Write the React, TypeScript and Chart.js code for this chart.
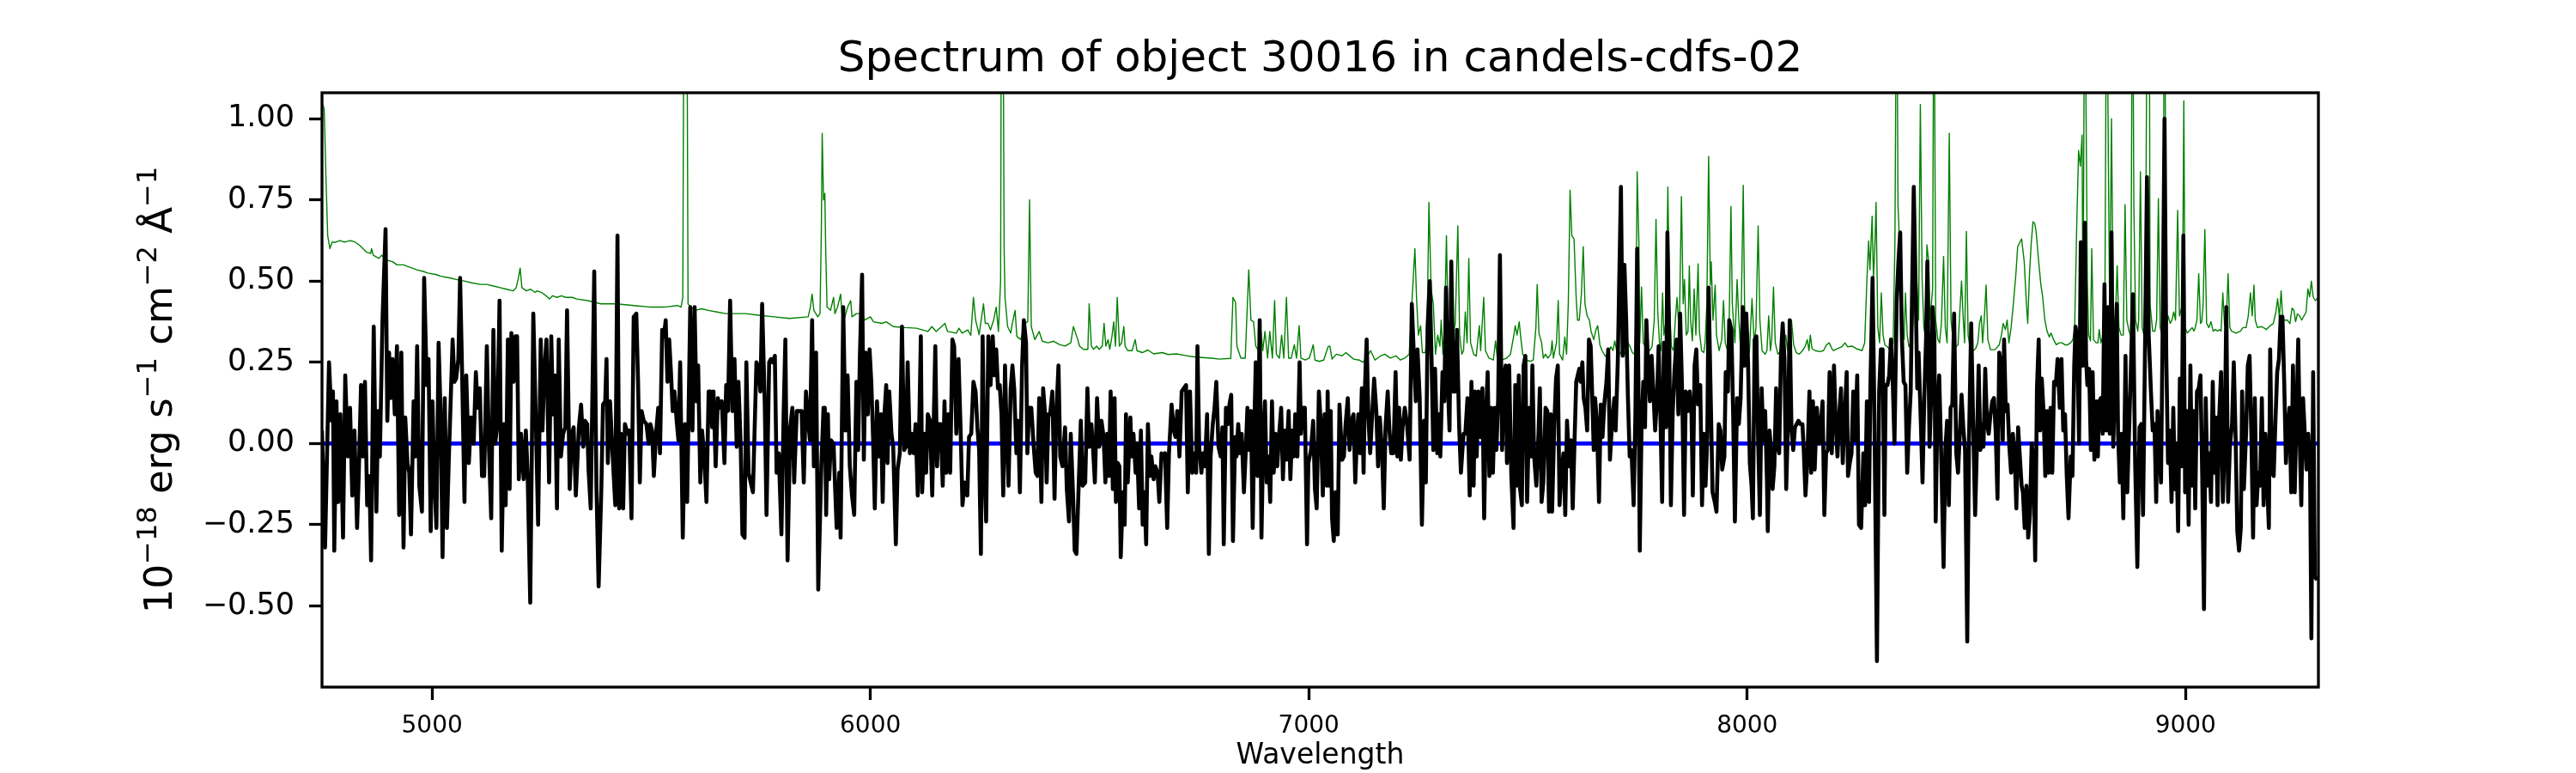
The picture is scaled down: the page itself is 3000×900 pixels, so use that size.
import { useEffect, useRef } from "react"
import { Chart, registerables } from "chart.js"

Chart.register(...registerables)

const WIDTH = 3000
const HEIGHT = 900
const FONT = "'DejaVu Sans', sans-serif"

const titleText = "Spectrum of object 30016 in candels-cdfs-02"
const xLabel = "Wavelength"
// y label in pieces: [text, superscript?]
const yLabelParts: [string, boolean][] = [
  ["10", false],
  ["\u221218", true],
  [" erg s", false],
  ["\u22121", true],
  [" cm", false],
  ["\u22122", true],
  [" \u00c5", false],
  ["\u22121", true],
]

const xTicks = [5000, 6000, 7000, 8000, 9000]
const yTicks = [-0.5, -0.25, 0, 0.25, 0.5, 0.75, 1.0]
const xRange = [4749, 9303]
const yRange = [-0.75, 1.08]

// object spectrum (black), [wavelength, flux]
const objectFlux: [number, number][] = [
  [4749, 0.04], [4756, -0.32], [4765, 0.25], [4771, 0.07], [4774, 0.16], [4777, -0.33], [4782, 0.13], [4786, -0.18], [4791, 0.09], [4797, -0.29],
  [4802, 0.21], [4808, -0.04], [4813, 0.11], [4818, -0.16], [4823, 0.04], [4829, -0.26], [4833, -0.09], [4838, 0.18], [4842, -0.04], [4847, 0.19],
  [4852, -0.19], [4857, -0.1], [4861, -0.36], [4867, 0.36], [4873, -0.21], [4877, 0.1], [4881, -0.04], [4887, 0.38], [4894, 0.66], [4898, 0.07],
  [4902, 0.28], [4906, 0.14], [4910, 0.26], [4915, 0.09], [4920, 0.3], [4925, -0.22], [4930, 0.28], [4935, -0.32], [4939, 0.08], [4944, -0.06],
  [4948, -0.09], [4952, -0.28], [4958, 0.13], [4962, -0.04], [4966, 0.3], [4971, -0.13], [4977, -0.21], [4982, 0.51], [4988, 0.18], [4992, 0.26],
  [4997, -0.27], [5001, 0.13], [5005, -0.1], [5010, -0.26], [5015, 0.31], [5020, 0.07], [5024, -0.35], [5029, 0.14], [5034, -0.26], [5038, -0.06],
  [5047, 0.32], [5051, 0.19], [5055, 0.2], [5060, 0.26], [5064, 0.51], [5068, 0.26], [5074, -0.18], [5078, 0.21], [5084, -0.06], [5089, 0.08],
  [5095, 0.0], [5100, 0.22], [5104, 0.11], [5109, 0.17], [5114, -0.1], [5119, -0.1], [5125, 0.3], [5130, -0.02], [5135, -0.23], [5140, 0.35],
  [5144, 0.0], [5149, 0.06], [5154, 0.44], [5159, -0.33], [5164, 0.06], [5168, -0.19], [5173, 0.32], [5177, -0.14], [5181, 0.34], [5186, 0.19],
  [5190, 0.33], [5194, 0.33], [5198, -0.11], [5203, 0.03], [5209, -0.11], [5214, 0.04], [5218, -0.09], [5224, -0.49], [5231, 0.4], [5237, 0.06],
  [5242, -0.25], [5248, 0.32], [5252, 0.04], [5256, 0.22], [5261, 0.32], [5267, -0.12], [5272, 0.33], [5276, 0.09], [5280, 0.21], [5285, -0.2],
  [5289, 0.32], [5294, -0.04], [5299, 0.03], [5304, 0.05], [5308, 0.41], [5314, -0.14], [5319, 0.03],
  [5323, 0.05], [5328, -0.16], [5335, 0.05], [5340, 0.12], [5345, -0.01], [5349, 0.07], [5354, 0.06], [5357, -0.08], [5362, -0.2], [5370, 0.53],
  [5375, -0.13], [5380, -0.44], [5386, -0.15], [5390, 0.12], [5395, 0.13], [5398, 0.26], [5401, -0.06], [5406, 0.13], [5411, -0.01], [5418, -0.19],
  [5423, 0.64], [5427, -0.2], [5431, 0.03], [5436, -0.2], [5440, 0.06], [5446, 0.03], [5450, 0.04], [5455, -0.23], [5460, 0.39], [5466, 0.4],
  [5470, 0.19], [5474, -0.12], [5478, 0.1], [5483, 0.07], [5489, 0.06], [5494, 0.0], [5498, 0.06], [5502, 0.04], [5506, -0.1], [5511, 0.03],
  [5516, 0.11], [5520, -0.03], [5525, 0.35], [5529, 0.33], [5533, 0.38], [5537, 0.19], [5541, 0.32], [5545, 0.22], [5549, 0.1], [5553, 0.16],
  [5558, 0.07], [5562, 0.01], [5566, 0.25], [5572, -0.29], [5577, 0.06], [5582, -0.18], [5589, 0.42], [5594, 0.04], [5599, 0.42], [5603, 0.13],
  [5607, 0.24], [5612, -0.12], [5616, 0.04], [5621, -0.04], [5626, -0.18], [5631, 0.16], [5635, 0.16], [5639, 0.05], [5642, 0.16], [5647, -0.07],
  [5652, 0.14], [5656, 0.11], [5661, 0.13], [5667, -0.06], [5671, 0.18], [5675, 0.1], [5680, 0.44], [5685, 0.1], [5690, 0.26], [5695, -0.01],
  [5699, 0.19], [5704, 0.0], [5708, -0.28], [5713, -0.29], [5717, 0.25], [5722, -0.09], [5727, -0.12], [5732, -0.15], [5736, 0.05], [5740, 0.25],
  [5745, 0.23], [5749, 0.16], [5753, 0.43], [5759, 0.12], [5763, -0.22], [5769, 0.25], [5773, 0.26], [5777, 0.25], [5782, 0.27], [5786, -0.09],
  [5791, -0.03], [5797, -0.28], [5802, 0.09], [5806, 0.32], [5811, -0.36], [5817, 0.05], [5822, 0.11], [5826, -0.12], [5832, 0.1], [5837, 0.1],
  [5843, 0.1], [5848, -0.12], [5853, 0.16], [5858, 0.07], [5862, 0.01], [5867, 0.38], [5871, -0.07], [5876, 0.28], [5881, -0.45], [5888, -0.07],
  [5893, 0.11],
  [5896, 0.11], [5899, -0.22], [5903, 0.09], [5906, -0.11], [5910, 0.01], [5916, 0.0], [5919, -0.12], [5923, -0.26], [5929, -0.09], [5932, -0.29],
  [5938, 0.42], [5943, 0.04], [5948, 0.21], [5953, -0.07], [5958, -0.16], [5963, -0.22], [5968, 0.19], [5972, -0.02], [5976, 0.27], [5981, 0.52],
  [5985, -0.05], [5989, 0.28], [5994, 0.09], [5998, 0.29], [6002, 0.19], [6006, 0.02], [6010, -0.2], [6015, 0.13], [6020, -0.04], [6024, 0.09],
  [6028, -0.18], [6032, 0.09], [6036, 0.18], [6039, -0.06], [6043, 0.16], [6048, 0.03], [6052, -0.01], [6058, -0.31], [6062, -0.08], [6067, -0.03],
  [6072, 0.36], [6077, -0.02], [6081, -0.01], [6085, 0.25], [6090, -0.03], [6094, 0.03], [6099, -0.03], [6103, 0.06], [6108, -0.16], [6111, 0.03],
  [6115, 0.33], [6118, -0.15], [6123, 0.03], [6127, -0.09], [6131, 0.09], [6136, 0.07], [6141, -0.16], [6148, 0.3], [6152, -0.07], [6155, 0.06],
  [6160, 0.06], [6165, -0.13], [6169, 0.13], [6173, -0.09], [6178, 0.09], [6182, -0.09], [6187, 0.32], [6191, 0.3], [6196, 0.03], [6201, 0.26],
  [6206, 0.03], [6210, -0.19], [6215, -0.12], [6221, -0.16], [6225, 0.02], [6230, 0.03], [6235, 0.19], [6240, 0.16], [6244, 0.05], [6248, -0.02],
  [6252, -0.34], [6256, 0.33], [6260, -0.07], [6264, -0.24], [6269, 0.33], [6274, 0.18], [6279, 0.33], [6283, 0.21], [6287, 0.29], [6291, 0.17],
  [6295, 0.18], [6299, 0.09], [6303, -0.16], [6307, 0.24], [6311, 0.02], [6315, -0.13], [6320, 0.17], [6324, 0.24], [6328, 0.17], [6333, -0.03],
  [6337, 0.07], [6341, -0.15], [6346, 0.24], [6350, 0.38], [6355, 0.31], [6358, -0.03], [6362, 0.11], [6367, 0.11], [6372, 0.0], [6377, -0.09],
  [6381, -0.1], [6385, 0.14], [6390, -0.18], [6394, 0.17], [6398, 0.1], [6402, -0.12], [6406, 0.09], [6410, 0.09], [6415, 0.16], [6420, -0.17],
  [6424, 0.09], [6429, 0.24], [6433, -0.04], [6438, -0.07], [6444, 0.05], [6448, -0.14], [6453, -0.24], [6457, 0.03], [6462, -0.15], [6466, -0.33],
  [6470, -0.34], [6475, -0.13], [6480, 0.07], [6484, -0.13], [6490, -0.12], [6495, 0.17], [6499, -0.01], [6504, 0.06], [6508, -0.02], [6512, -0.12],
  [6517, 0.14], [6522, -0.01], [6527, 0.07], [6532, 0.02], [6536, -0.12], [6540, 0.03], [6544, -0.1], [6548, 0.16], [6553, -0.14], [6557, 0.14],
  [6560, -0.18], [6564, -0.06], [6568, -0.07], [6571, -0.35], [6576, -0.15], [6580, -0.25], [6583, 0.09], [6587, -0.12], [6593, 0.08], [6596, -0.04],
  [6600, 0.03], [6605, -0.09], [6608, 0.0], [6613, -0.2], [6617, 0.04], [6621, -0.25], [6625, -0.15], [6629, -0.31], [6633, 0.06], [6638, -0.1],
  [6641, -0.04], [6646, -0.11], [6650, -0.07], [6655, -0.09], [6659, -0.18], [6664, -0.03], [6667, -0.04], [6672, -0.03], [6677, -0.26], [6681, -0.03],
  [6687, 0.12], [6692, 0.04], [6696, 0.02], [6700, 0.1], [6705, -0.04], [6710, 0.16], [6715, 0.17], [6720, 0.18], [6724, -0.15], [6729, 0.16],
  [6734, -0.09], [6739, -0.03], [6743, -0.09], [6746, 0.3], [6750, -0.01], [6755, -0.09], [6759, -0.03], [6763, -0.07], [6768, 0.09], [6772, -0.34],
  [6776, -0.04], [6781, 0.06], [6785, 0.11], [6789, 0.19], [6794, -0.01], [6799, -0.04], [6803, 0.05], [6806, -0.31], [6811, 0.11], [6816, 0.06],
  [6819, 0.12], [6823, 0.15], [6827, -0.3], [6832, 0.02], [6835, -0.04], [6839, 0.06], [6843, -0.03], [6847, 0.03], [6852, -0.15], [6856, -0.03],
  [6860, 0.11], [6864, -0.02], [6868, 0.1], [6872, -0.26], [6876, 0.07], [6879, 0.25], [6883, -0.1], [6888, 0.38], [6892, -0.29], [6896, 0.01],
  [6900, 0.13], [6904, -0.12], [6908, -0.04], [6912, -0.18], [6916, 0.13], [6920, -0.09], [6924, 0.03], [6928, -0.07], [6933, 0.04], [6937, 0.11],
  [6941, -0.11], [6945, 0.04], [6949, -0.05], [6954, 0.1], [6958, -0.11], [6962, 0.04], [6966, -0.04], [6969, 0.09], [6974, -0.04], [6979, 0.25],
  [6982, 0.03], [6986, 0.11], [6991, 0.11], [6996, -0.31], [6999, -0.06], [7005, -0.02], [7010, 0.07], [7014, -0.14], [7018, -0.2], [7023, 0.16],
  [7027, 0.07], [7032, -0.16], [7036, 0.09], [7041, -0.13],
  [7043, 0.16], [7046, -0.13], [7050, 0.1], [7053, -0.23], [7057, -0.3], [7061, -0.15], [7066, -0.28], [7070, 0.12], [7076, -0.05], [7080, -0.04],
  [7084, 0.06], [7089, 0.14], [7093, -0.02], [7097, 0.07], [7102, 0.09], [7106, -0.12], [7110, 0.03], [7113, 0.09], [7117, -0.03], [7121, 0.17],
  [7125, -0.09], [7128, 0.17], [7132, 0.32], [7136, 0.08], [7140, -0.03], [7145, 0.1], [7149, 0.2], [7154, 0.1], [7158, -0.07], [7162, 0.08],
  [7167, -0.02], [7171, -0.2], [7175, 0.05], [7180, 0.16], [7184, 0.04], [7188, -0.03], [7193, -0.03], [7198, 0.22], [7202, -0.04], [7206, 0.11],
  [7210, -0.05], [7214, 0.05], [7219, 0.11], [7224, 0.06], [7230, -0.05], [7235, 0.43], [7240, 0.26], [7244, 0.13], [7248, 0.29], [7253, 0.14],
  [7258, -0.25], [7263, 0.07], [7267, -0.12], [7271, 0.36], [7276, 0.5], [7280, 0.26], [7284, -0.02], [7288, 0.23], [7293, -0.03], [7297, 0.09],
  [7300, -0.04], [7305, 0.22], [7309, 0.13], [7313, 0.48], [7317, 0.19], [7321, 0.04], [7325, 0.56], [7330, 0.16], [7334, 0.16], [7338, 0.35],
  [7343, 0.05], [7347, -0.09], [7353, 0.03], [7357, 0.03], [7362, 0.14], [7367, -0.16], [7371, 0.19], [7376, -0.13], [7379, 0.16], [7383, -0.04],
  [7387, 0.16], [7392, 0.02], [7396, 0.17], [7400, -0.23], [7404, 0.08], [7408, 0.22], [7412, -0.1], [7416, 0.11], [7420, -0.09], [7424, 0.11],
  [7428, -0.02], [7432, 0.14], [7436, 0.58], [7441, -0.02], [7445, 0.2], [7449, 0.24], [7452, -0.06], [7457, 0.24], [7462, -0.1], [7467, -0.26],
  [7471, 0.18], [7475, -0.13], [7479, 0.21], [7482, -0.14], [7486, -0.19], [7490, 0.24], [7494, 0.27], [7498, -0.18], [7503, 0.11], [7507, -0.04],
  [7510, 0.24], [7514, -0.04], [7519, -0.13], [7524, 0.03], [7527, 0.17], [7531, -0.18], [7535, -0.12], [7540, 0.11], [7544, 0.1], [7548, -0.21],
  [7552, 0.09], [7555, -0.21], [7560, 0.06], [7564, 0.2], [7568, 0.24], [7572, -0.19], [7576, -0.09], [7581, -0.03], [7585, -0.22], [7589, 0.07],
  [7594, -0.07], [7598, 0.01], [7602, -0.2], [7606, 0.0], [7610, 0.19],
  [7617, 0.23], [7620, 0.19], [7624, 0.25], [7627, 0.14], [7631, 0.11], [7635, 0.04], [7639, 0.32], [7643, 0.3], [7646, 0.17], [7650, -0.02],
  [7653, 0.14], [7657, 0.07], [7662, -0.18], [7666, 0.12], [7670, 0.02], [7674, 0.12], [7679, 0.19], [7683, 0.29], [7687, -0.05], [7692, 0.07],
  [7697, 0.14], [7700, 0.04], [7705, 0.26], [7712, 0.79], [7716, 0.27], [7720, 0.55], [7724, 0.38], [7728, 0.14], [7732, -0.04], [7736, -0.02],
  [7741, -0.19], [7745, 0.09], [7749, 0.6], [7753, 0.03], [7755, -0.33], [7759, 0.05], [7763, 0.19], [7767, 0.05], [7770, 0.38], [7773, 0.27],
  [7778, 0.13], [7782, 0.27], [7787, 0.13], [7790, 0.04], [7794, 0.13], [7798, 0.3], [7802, 0.09], [7806, -0.18], [7810, 0.31], [7815, 0.05],
  [7818, 0.65], [7822, 0.33], [7826, -0.19], [7830, 0.09], [7834, 0.22], [7839, 0.32], [7843, 0.09], [7847, 0.4], [7852, 0.14], [7856, -0.22],
  [7860, 0.16], [7865, 0.1], [7869, 0.16], [7873, 0.09], [7876, -0.16], [7880, 0.24], [7884, 0.29], [7888, 0.12], [7893, 0.18], [7897, -0.19],
  [7901, 0.03], [7905, -0.13], [7909, 0.02], [7912, 0.48], [7917, 0.13], [7921, -0.15], [7926, -0.18], [7930, -0.21], [7935, 0.06], [7939, 0.04],
  [7943, -0.08], [7948, -0.04], [7951, 0.22], [7956, 0.16], [7959, 0.38], [7964, 0.35], [7968, 0.09], [7972, -0.24], [7977, 0.14], [7981, 0.06],
  [7985, 0.14], [7990, 0.42], [7994, 0.24], [7998, 0.4], [8002, 0.25], [8006, -0.06], [8010, -0.13], [8013, -0.23], [8017, 0.32], [8021, 0.33],
  [8025, 0.01], [8029, -0.22], [8033, 0.17], [8037, 0.01], [8041, 0.1], [8045, -0.11], [8047, -0.27], [8051, 0.04], [8055, -0.03], [8058, -0.14],
  [8062, -0.07], [8066, 0.17], [8069, 0.0], [8073, -0.03], [8077, 0.27], [8081, 0.37], [8085, 0.26], [8089, -0.14], [8093, 0.06], [8097, 0.38],
  [8101, 0.05], [8105, -0.02], [8109, 0.05], [8113, 0.06], [8117, 0.07], [8121, 0.06], [8126, 0.06], [8129, -0.02], [8133, -0.16], [8137, -0.06],
  [8142, 0.16], [8146, -0.09], [8150, 0.13], [8154, -0.08], [8159, 0.11], [8164, 0.0], [8168, 0.06], [8172, 0.13], [8176, -0.22], [8180, -0.03],
  [8184, -0.02], [8188, 0.22],
  [8190, 0.11], [8193, -0.03], [8198, 0.24], [8202, 0.06], [8206, -0.04], [8210, 0.09], [8214, 0.17], [8218, -0.06], [8222, 0.07], [8227, 0.22],
  [8230, -0.1], [8234, -0.06], [8238, -0.03], [8242, 0.16], [8246, 0.01], [8251, 0.21], [8255, -0.25], [8260, -0.26], [8265, -0.03], [8269, -0.19],
  [8273, 0.13], [8278, -0.18], [8281, 0.17], [8286, 0.51], [8290, 0.11], [8296, -0.67], [8301, 0.16], [8305, 0.29], [8309, 0.29], [8313, -0.22],
  [8316, 0.18], [8320, 0.18], [8324, 0.21], [8328, 0.32], [8332, 0.19], [8336, 0.0], [8341, 0.44], [8345, 0.56], [8349, 0.65], [8353, 0.32],
  [8357, 0.19], [8361, 0.18], [8365, -0.09], [8369, 0.05], [8373, 0.16], [8376, 0.45], [8380, 0.79], [8384, 0.5], [8388, 0.17], [8391, 0.28],
  [8396, 0.07], [8400, -0.12], [8404, 0.14], [8408, 0.32], [8411, 0.56], [8416, -0.01], [8420, 0.16], [8423, 0.42], [8427, 0.33], [8430, -0.24],
  [8434, 0.1], [8438, 0.21], [8442, 0.0], [8448, -0.38], [8452, -0.02], [8456, 0.07], [8460, -0.19], [8464, 0.11], [8468, 0.12], [8472, 0.4],
  [8477, -0.03], [8481, -0.09], [8485, 0.03], [8489, 0.15], [8493, 0.05], [8497, -0.02], [8502, -0.61], [8506, 0.01], [8511, 0.37], [8516, 0.03],
  [8520, -0.22], [8524, -0.01], [8528, 0.24], [8532, -0.02], [8536, 0.06], [8539, -0.01], [8543, 0.23], [8547, 0.06], [8551, 0.03], [8555, 0.09],
  [8559, 0.13], [8563, 0.14], [8567, 0.03], [8571, -0.17], [8575, 0.28], [8579, 0.24], [8583, 0.01], [8586, 0.32], [8590, 0.1], [8594, 0.12],
  [8598, -0.01], [8602, -0.09], [8606, 0.03], [8610, -0.03], [8614, -0.2], [8618, 0.05], [8622, -0.04], [8626, -0.13], [8629, -0.15], [8633, -0.26],
  [8637, -0.13], [8641, -0.29], [8645, -0.22], [8649, 0.0], [8653, -0.05], [8657, -0.36], [8661, 0.17], [8665, 0.32], [8668, 0.04], [8672, 0.2],
  [8676, 0.1], [8680, -0.1], [8684, 0.1], [8688, -0.09], [8692, 0.11], [8696, -0.09], [8700, 0.19], [8704, 0.18], [8708, 0.26], [8713, 0.11],
  [8717, 0.26], [8721, 0.04], [8725, 0.09], [8729, -0.1], [8733, -0.23], [8738, -0.04], [8742, -0.1], [8746, 0.24], [8749, 0.36], [8753, 0.32],
  [8757, 0.0], [8761, 0.62],
  [8766, 0.24], [8770, 0.68], [8773, 0.26], [8776, 0.18], [8780, 0.23], [8784, -0.02], [8788, 0.22], [8792, -0.05], [8796, 0.13], [8800, -0.04],
  [8803, 0.13], [8807, 0.14], [8811, 0.03], [8815, 0.49], [8819, 0.04], [8823, 0.42], [8827, 0.03], [8831, 0.65], [8835, -0.01], [8839, 0.19],
  [8843, 0.43], [8846, 0.03], [8850, -0.12], [8854, 0.03], [8858, -0.23], [8863, 0.27], [8867, -0.15], [8871, 0.03], [8875, 0.22], [8880, 0.46],
  [8885, -0.06], [8890, -0.38], [8895, 0.05], [8899, 0.06], [8903, -0.22], [8906, 0.12], [8912, 0.82], [8916, 0.33], [8921, 0.16], [8925, 0.04],
  [8929, 0.06], [8933, -0.18], [8936, 0.1], [8940, -0.01], [8944, -0.12], [8948, 0.39], [8952, 1.0], [8956, 0.27], [8960, -0.06], [8964, 0.04],
  [8968, -0.18], [8972, 0.11], [8976, -0.14], [8979, 0.0], [8983, -0.27], [8987, 0.2], [8991, -0.07], [8995, 0.64], [8999, -0.15], [9003, 0.1],
  [9007, -0.25], [9011, 0.24], [9015, -0.13], [9019, 0.1], [9022, -0.2], [9026, 0.16], [9030, 0.17], [9034, 0.21], [9038, -0.1], [9042, -0.51],
  [9046, 0.14], [9050, -0.13], [9054, -0.03], [9058, -0.18], [9062, 0.19], [9066, -0.09], [9069, 0.08], [9073, -0.19], [9077, 0.09], [9081, 0.22],
  [9085, -0.18], [9089, -0.01], [9093, 0.42], [9097, -0.18], [9101, -0.01], [9106, 0.06], [9110, 0.25], [9114, 0.03], [9118, -0.27], [9122, -0.33],
  [9126, -0.26], [9129, 0.16], [9133, -0.14], [9138, 0.03], [9142, 0.24], [9146, 0.27], [9150, 0.03], [9154, -0.29], [9158, 0.14], [9162, -0.19],
  [9166, -0.09], [9170, -0.13], [9174, 0.14], [9178, -0.19], [9182, 0.03], [9185, -0.08], [9190, -0.26], [9193, 0.29], [9197, -0.09], [9201, -0.1],
  [9205, 0.07], [9209, 0.22], [9213, 0.26], [9217, 0.39], [9221, 0.39], [9225, 0.19], [9229, -0.06], [9232, 0.03], [9237, 0.11], [9241, -0.15],
  [9245, 0.24], [9249, -0.15], [9253, 0.08], [9257, 0.32], [9261, -0.02], [9264, -0.19], [9268, 0.14], [9272, 0.03], [9276, -0.08], [9280, 0.03],
  [9284, -0.09], [9287, -0.6], [9291, 0.22], [9295, -0.41], [9300, -0.42],
]

// sky / noise spectrum (green), [wavelength, flux]; spikes past the top are clipped
const skyFlux: [number, number][] = [
  [4749, 1.05], [4754, 1.03], [4758, 0.82], [4762, 0.64], [4767, 0.6], [4772, 0.62], [4780, 0.62], [4790, 0.625], [4800, 0.62], [4814, 0.625],
  [4825, 0.62], [4835, 0.61], [4850, 0.59], [4860, 0.585], [4862, 0.6], [4866, 0.58], [4879, 0.57], [4885, 0.58], [4895, 0.565], [4910, 0.56],
  [4920, 0.55], [4935, 0.55], [4945, 0.545], [4955, 0.54], [4965, 0.535], [4980, 0.53], [4990, 0.525], [5010, 0.52], [5020, 0.515], [5040, 0.51],
  [5055, 0.505], [5075, 0.5], [5090, 0.495], [5110, 0.49], [5125, 0.49], [5140, 0.485], [5155, 0.48], [5170, 0.475], [5185, 0.47], [5192, 0.48],
  [5197, 0.51], [5201, 0.54], [5205, 0.48], [5215, 0.47], [5225, 0.475], [5235, 0.465], [5240, 0.47], [5250, 0.465], [5260, 0.455], [5268, 0.445],
  [5275, 0.455], [5285, 0.45], [5295, 0.455], [5305, 0.45], [5320, 0.45],
  [5330, 0.445], [5355, 0.44], [5385, 0.43], [5420, 0.43], [5460, 0.425], [5500, 0.42], [5530, 0.42], [5560, 0.425], [5568, 0.42], [5572, 0.45],
  [5575, 1.6], [5581, 1.6], [5584, 0.43], [5590, 0.42], [5600, 0.41], [5615, 0.415], [5630, 0.41], [5650, 0.405], [5670, 0.4], [5690, 0.4],
  [5715, 0.4], [5745, 0.395], [5780, 0.39], [5815, 0.385], [5858, 0.39], [5863, 0.42], [5867, 0.46], [5871, 0.41], [5880, 0.39], [5885, 0.4],
  [5888, 0.65], [5890, 0.955], [5893, 0.75], [5896, 0.77], [5898, 0.6], [5901, 0.42],
  [5909, 0.41], [5916, 0.45], [5919, 0.4], [5925, 0.42], [5932, 0.46], [5935, 0.4], [5942, 0.39], [5948, 0.42], [5955, 0.44], [5958, 0.39],
  [5968, 0.4], [5977, 0.4], [5987, 0.38], [6000, 0.39], [6007, 0.375], [6026, 0.37], [6036, 0.375], [6052, 0.36], [6079, 0.357], [6105, 0.355],
  [6131, 0.345], [6140, 0.36], [6150, 0.345], [6170, 0.37], [6176, 0.345], [6196, 0.34], [6202, 0.355], [6209, 0.34], [6222, 0.35], [6229, 0.333],
  [6235, 0.45], [6240, 0.38], [6248, 0.335], [6258, 0.43], [6262, 0.37], [6268, 0.37], [6274, 0.35], [6281, 0.38], [6287, 0.42], [6292, 0.345],
  [6297, 0.5], [6299, 1.6], [6302, 1.6], [6305, 0.6], [6307, 0.45], [6313, 0.36], [6320, 0.34], [6323, 0.365], [6330, 0.41], [6334, 0.33],
  [6343, 0.32], [6352, 0.37], [6359, 0.375], [6363, 0.75], [6367, 0.36], [6375, 0.32], [6385, 0.345], [6392, 0.315], [6405, 0.31], [6418, 0.315],
  [6431, 0.305], [6444, 0.3], [6457, 0.31], [6463, 0.36], [6473, 0.32],
  [6477, 0.3], [6486, 0.29], [6496, 0.29], [6499, 0.43], [6504, 0.3], [6509, 0.29], [6516, 0.3], [6522, 0.29], [6529, 0.3], [6533, 0.37],
  [6537, 0.3], [6542, 0.32], [6546, 0.29], [6551, 0.33], [6555, 0.375], [6559, 0.3], [6563, 0.45], [6568, 0.3], [6573, 0.31], [6578, 0.36],
  [6581, 0.3], [6587, 0.286], [6597, 0.286], [6604, 0.32], [6608, 0.286], [6620, 0.28], [6633, 0.288], [6646, 0.276], [6666, 0.28], [6679, 0.274],
  [6698, 0.276], [6718, 0.271], [6731, 0.268], [6744, 0.266], [6763, 0.264], [6783, 0.262], [6796, 0.26], [6822, 0.262], [6827, 0.45], [6833, 0.434],
  [6836, 0.3], [6845, 0.263], [6855, 0.263], [6863, 0.535], [6868, 0.38], [6874, 0.375], [6879, 0.3], [6885, 0.286], [6891, 0.345], [6895, 0.286],
  [6900, 0.345], [6906, 0.263], [6911, 0.345], [6917, 0.263], [6922, 0.44], [6926, 0.275], [6933, 0.263], [6938, 0.334], [6943, 0.263], [6949, 0.45],
  [6954, 0.263], [6960, 0.263], [6967, 0.304], [6972, 0.263], [6978, 0.363], [6982, 0.263], [6992, 0.257], [7001, 0.263], [7005, 0.28], [7010, 0.304],
  [7014, 0.257], [7024, 0.253], [7034, 0.257], [7044, 0.298],
  [7048, 0.3], [7053, 0.26], [7063, 0.275], [7076, 0.27], [7085, 0.28], [7089, 0.275], [7102, 0.26], [7115, 0.257], [7124, 0.25], [7131, 0.263],
  [7141, 0.286], [7151, 0.257], [7164, 0.27], [7173, 0.275], [7186, 0.263], [7199, 0.27], [7209, 0.257], [7219, 0.263], [7229, 0.275], [7235, 0.43],
  [7242, 0.6], [7246, 0.44], [7250, 0.334], [7255, 0.363], [7259, 0.28], [7266, 0.28], [7270, 0.357], [7274, 0.742], [7279, 0.476], [7284, 0.43],
  [7289, 0.275], [7294, 0.334], [7299, 0.3], [7302, 0.38], [7306, 0.275], [7310, 0.38], [7314, 0.64], [7318, 0.334], [7323, 0.275], [7329, 0.328],
  [7334, 0.37], [7340, 0.67], [7344, 0.334], [7349, 0.275], [7353, 0.286], [7357, 0.405], [7361, 0.31], [7365, 0.57], [7369, 0.31], [7376, 0.275],
  [7382, 0.269], [7389, 0.363], [7392, 0.286], [7399, 0.45], [7403, 0.286], [7411, 0.263], [7421, 0.257], [7426, 0.316], [7430, 0.263], [7441, 0.257],
  [7451, 0.263], [7460, 0.275], [7467, 0.328], [7471, 0.363], [7475, 0.334], [7480, 0.375], [7484, 0.32], [7488, 0.275], [7496, 0.257], [7506, 0.253],
  [7512, 0.257], [7518, 0.357], [7521, 0.49], [7525, 0.34], [7531, 0.31], [7535, 0.263], [7540, 0.275], [7545, 0.263], [7552, 0.275], [7555, 0.316],
  [7558, 0.263], [7565, 0.31], [7569, 0.44], [7572, 0.275], [7579, 0.257], [7584, 0.328], [7588, 0.275], [7592, 0.434], [7596, 0.78], [7600, 0.64],
  [7605, 0.63], [7610, 0.446], [7613, 0.38],
  [7617, 0.38], [7622, 0.464], [7626, 0.606], [7630, 0.43], [7635, 0.393], [7640, 0.38], [7644, 0.345], [7650, 0.32], [7655, 0.35], [7659, 0.363],
  [7664, 0.304], [7669, 0.286], [7676, 0.269], [7682, 0.275], [7689, 0.298], [7694, 0.286], [7698, 0.316], [7702, 0.286], [7708, 0.275], [7715, 0.286],
  [7721, 0.275], [7728, 0.31], [7733, 0.298], [7738, 0.28], [7743, 0.275], [7746, 0.334], [7749, 0.837], [7753, 0.618], [7755, 0.31], [7759, 0.482],
  [7763, 0.31], [7770, 0.292], [7777, 0.286], [7783, 0.298], [7788, 0.38], [7792, 0.69], [7796, 0.405], [7800, 0.31], [7803, 0.286], [7807, 0.464],
  [7810, 0.334], [7815, 0.38], [7819, 0.79], [7823, 0.43], [7827, 0.298], [7832, 0.286], [7836, 0.38], [7840, 0.45], [7845, 0.334], [7850, 0.76],
  [7854, 0.43], [7857, 0.505], [7861, 0.334], [7865, 0.345], [7868, 0.547], [7871, 0.38], [7875, 0.316], [7879, 0.476], [7883, 0.334], [7888, 0.553],
  [7891, 0.345], [7896, 0.286], [7901, 0.28], [7904, 0.31], [7908, 0.43], [7912, 0.884], [7916, 0.488], [7918, 0.559], [7922, 0.38], [7927, 0.488],
  [7930, 0.334], [7936, 0.286], [7942, 0.32], [7946, 0.44], [7950, 0.31], [7955, 0.286], [7959, 0.38], [7963, 0.73], [7966, 0.43], [7972, 0.31],
  [7977, 0.505], [7981, 0.38], [7985, 0.286], [7991, 0.795], [7994, 0.43], [7998, 0.286], [8005, 0.28], [8011, 0.446], [8016, 0.31], [8020, 0.357],
  [8025, 0.67], [8029, 0.38], [8034, 0.286], [8041, 0.275], [8045, 0.286], [8049, 0.393], [8053, 0.286], [8056, 0.32], [8060, 0.482], [8064, 0.31],
  [8070, 0.275], [8077, 0.286], [8083, 0.298], [8088, 0.334], [8092, 0.286], [8096, 0.357], [8101, 0.38], [8106, 0.304], [8112, 0.28], [8119, 0.275],
  [8126, 0.286], [8132, 0.298], [8137, 0.32], [8141, 0.286], [8144, 0.334], [8148, 0.292], [8155, 0.286], [8165, 0.283], [8174, 0.286], [8181, 0.304],
  [8187, 0.31], [8194, 0.29],
  [8197, 0.286], [8206, 0.292], [8216, 0.298], [8223, 0.31], [8229, 0.298], [8239, 0.3], [8249, 0.292], [8262, 0.286], [8268, 0.31], [8273, 0.5],
  [8277, 0.624], [8280, 0.535], [8285, 0.7], [8288, 0.51], [8291, 0.594], [8294, 0.742], [8298, 0.357], [8302, 0.31], [8306, 0.464], [8310, 0.334],
  [8314, 0.304], [8320, 0.298], [8327, 0.286], [8333, 0.31], [8337, 0.618], [8341, 1.6], [8344, 0.736], [8346, 0.67], [8350, 0.38], [8354, 0.334],
  [8358, 0.32], [8361, 0.464], [8365, 0.334], [8369, 0.298], [8376, 0.32], [8380, 0.417], [8386, 0.523], [8391, 0.38], [8395, 1.044], [8399, 0.51],
  [8403, 0.357], [8406, 0.334], [8410, 0.612], [8414, 0.559], [8417, 0.38], [8420, 0.428], [8423, 0.476], [8426, 1.6], [8430, 0.38], [8435, 0.32],
  [8439, 0.31], [8443, 0.37], [8448, 0.576], [8452, 0.357], [8456, 0.31], [8461, 0.955], [8465, 0.38], [8470, 0.31], [8476, 0.298], [8481, 0.304],
  [8485, 0.405], [8489, 0.5], [8493, 0.38], [8496, 0.31], [8500, 0.653], [8504, 0.334], [8509, 0.286], [8516, 0.286], [8521, 0.292], [8526, 0.31],
  [8530, 0.37], [8534, 0.393], [8537, 0.31], [8541, 0.387], [8545, 0.488], [8549, 0.32], [8555, 0.289], [8565, 0.289], [8575, 0.304], [8580, 0.334],
  [8584, 0.37], [8589, 0.351], [8593, 0.38], [8597, 0.31], [8602, 0.357], [8607, 0.428], [8613, 0.523], [8617, 0.606], [8626, 0.63], [8632, 0.559],
  [8637, 0.428], [8640, 0.37], [8644, 0.523], [8648, 0.618], [8652, 0.683], [8656, 0.677], [8659, 0.653], [8665, 0.559], [8670, 0.488], [8674, 0.452],
  [8679, 0.38], [8684, 0.346], [8689, 0.328], [8693, 0.34], [8699, 0.32], [8705, 0.304], [8712, 0.31], [8718, 0.31], [8725, 0.304], [8731, 0.304],
  [8738, 0.31], [8743, 0.32], [8747, 0.357], [8752, 0.689], [8756, 0.902], [8760, 0.854], [8764, 0.95],
  [8766, 0.32], [8770, 1.6], [8773, 1.03], [8776, 0.5], [8779, 0.334], [8783, 0.316], [8786, 0.6], [8790, 0.32], [8796, 0.31], [8800, 0.31],
  [8803, 0.351], [8807, 0.31], [8812, 0.334], [8816, 0.428], [8820, 1.6], [8824, 0.854], [8827, 0.38], [8831, 1.0], [8835, 0.428], [8839, 0.334],
  [8841, 0.428], [8844, 0.547], [8848, 0.357], [8853, 0.334], [8858, 0.334], [8862, 0.736], [8866, 0.38], [8871, 0.346], [8875, 0.334], [8879, 1.6],
  [8882, 0.736], [8886, 0.38], [8891, 0.346], [8893, 0.38], [8897, 0.837], [8901, 0.357], [8905, 0.334], [8909, 0.594], [8913, 1.6], [8917, 1.6],
  [8919, 0.428], [8925, 0.346], [8930, 0.346], [8934, 0.38], [8938, 0.754], [8942, 0.357], [8946, 0.334], [8949, 0.64], [8952, 1.6], [8956, 0.357],
  [8960, 0.393], [8965, 0.37], [8969, 0.38], [8973, 0.405], [8977, 0.38], [8982, 0.718], [8986, 0.393], [8993, 0.428], [8996, 1.055], [8999, 0.357],
  [9004, 0.34], [9011, 0.351], [9015, 0.357], [9019, 0.346], [9022, 0.357], [9026, 0.38], [9030, 0.523], [9034, 0.37], [9037, 0.375], [9040, 0.428],
  [9044, 0.659], [9048, 0.37], [9053, 0.357], [9058, 0.375], [9063, 0.346], [9068, 0.351], [9073, 0.346], [9077, 0.351], [9081, 0.346], [9085, 0.464],
  [9089, 0.363], [9093, 0.38], [9097, 0.523], [9101, 0.357], [9105, 0.346], [9115, 0.34], [9125, 0.346], [9131, 0.357], [9138, 0.357], [9143, 0.393],
  [9148, 0.464], [9152, 0.393], [9156, 0.488], [9159, 0.38], [9164, 0.357], [9174, 0.36], [9184, 0.351], [9193, 0.363], [9200, 0.369], [9206, 0.405],
  [9210, 0.446], [9214, 0.387], [9218, 0.47], [9222, 0.38], [9227, 0.38], [9232, 0.38], [9238, 0.369], [9243, 0.417], [9247, 0.411], [9251, 0.375],
  [9255, 0.399], [9260, 0.393], [9265, 0.38], [9270, 0.393], [9275, 0.405], [9279, 0.476], [9283, 0.452], [9287, 0.5], [9291, 0.452], [9296, 0.44],
  [9303, 0.45],
]

// model (blue)
const modelFlux: [number, number][] = [
  [4749, 0.0],
  [9303, 0.0],
]

const toXY = (pts: [number, number][]) => pts.map(([x, y]) => ({ x, y }))

const formatY = (v: number) => (v < 0 ? "\u2212" : "") + Math.abs(v).toFixed(2)

// frame, title and axis labels drawn like matplotlib
const axesDecor = {
  id: "axesDecor",
  afterDatasetsDraw(chart: Chart) {
    const { ctx, chartArea: a } = chart
    ctx.save()
    ctx.strokeStyle = "#000"
    ctx.lineWidth = 3.3
    ctx.strokeRect(a.left, a.top, a.right - a.left, a.bottom - a.top)
    ctx.restore()
  },
  afterDraw(chart: Chart) {
    const { ctx, chartArea: a } = chart
    const cx = (a.left + a.right) / 2
    ctx.save()
    ctx.fillStyle = "#000"
    ctx.textBaseline = "alphabetic"

    ctx.textAlign = "center"
    ctx.font = `50px ${FONT}`
    ctx.fillText(titleText, cx, a.top - 25)

    ctx.font = `33px ${FONT}`
    ctx.fillText(xLabel, cx, a.bottom + 89)

    // y label with superscripts, rotated
    const baseSize = 45
    const supSize = 32
    const raise = 18
    let total = 0
    const widths = yLabelParts.map(([t, sup]) => {
      ctx.font = `${sup ? supSize : baseSize}px ${FONT}`
      const w = ctx.measureText(t).width
      total += w
      return w
    })
    ctx.translate(a.left - 175, (a.top + a.bottom) / 2)
    ctx.rotate(-Math.PI / 2)
    ctx.textAlign = "left"
    let x = -total / 2
    yLabelParts.forEach(([t, sup], i) => {
      ctx.font = `${sup ? supSize : baseSize}px ${FONT}`
      ctx.fillText(t, x, sup ? -raise : 0)
      x += widths[i]
    })
    ctx.restore()
  },
}

export default function App() {
  const chartRef = useRef<HTMLCanvasElement>(null)
  const chartInstance = useRef<Chart | null>(null)

  useEffect(() => {
    if (!chartRef.current) return

    if (chartInstance.current) {
      chartInstance.current.destroy()
    }

    const ctx = chartRef.current.getContext("2d")
    if (!ctx) return

    chartInstance.current = new Chart(ctx, {
      type: "line",
      data: {
        datasets: [
          {
            label: "flux",
            data: toXY(objectFlux),
            borderColor: "#000000",
            borderWidth: 4.6,
            order: 0,
            clip: 0,
          },
          {
            label: "model",
            data: toXY(modelFlux),
            borderColor: "#0000ff",
            borderWidth: 4.6,
            order: 1,
            clip: 0,
          },
          {
            label: "sky",
            data: toXY(skyFlux),
            borderColor: "#008000",
            borderWidth: 1.4,
            order: 2,
            clip: 0,
          },
        ],
      },
      options: {
        animation: false,
        responsive: false,
        devicePixelRatio: 1,
        layout: { padding: { top: 108, right: 300, bottom: 0, left: 0 } },
        elements: {
          point: { radius: 0, hoverRadius: 0 },
          line: { tension: 0, borderJoinStyle: "round", fill: false },
        },
        scales: {
          x: {
            type: "linear",
            min: xRange[0],
            max: xRange[1],
            afterFit: (scale: any) => {
              scale.height = 100
            },
            afterBuildTicks: (scale: any) => {
              scale.ticks = xTicks.map((v) => ({ value: v }))
            },
            grid: {
              drawOnChartArea: false,
              drawTicks: true,
              tickLength: 15,
              tickWidth: 3.3,
              tickColor: "#000",
            },
            border: { display: false },
            ticks: {
              color: "#000",
              font: { family: "DejaVu Sans", size: 28 },
              padding: 14,
              maxRotation: 0,
              autoSkip: false,
              callback: (v: any) => String(v),
            },
          },
          y: {
            type: "linear",
            min: yRange[0],
            max: yRange[1],
            afterFit: (scale: any) => {
              scale.width = 375
            },
            afterBuildTicks: (scale: any) => {
              scale.ticks = yTicks.map((v) => ({ value: v }))
            },
            grid: {
              drawOnChartArea: false,
              drawTicks: true,
              tickLength: 15,
              tickWidth: 3.3,
              tickColor: "#000",
            },
            border: { display: false },
            ticks: {
              color: "#000",
              font: { family: "DejaVu Sans", size: 35 },
              padding: 17,
              autoSkip: false,
              callback: (v: any) => formatY(Number(v)),
            },
          },
        },
        plugins: {
          legend: { display: false },
          tooltip: { enabled: false },
          title: { display: false },
        },
      },
      plugins: [axesDecor],
    })

    return () => {
      if (chartInstance.current) {
        chartInstance.current.destroy()
        chartInstance.current = null
      }
    }
  }, [])

  return (
    <div
      style={{
        position: "absolute",
        left: 0,
        top: 0,
        width: WIDTH,
        height: HEIGHT,
        background: "#ffffff",
      }}
    >
      <canvas
        ref={chartRef}
        width={WIDTH}
        height={HEIGHT}
        style={{ display: "block", width: WIDTH, height: HEIGHT }}
      />
    </div>
  )
}
